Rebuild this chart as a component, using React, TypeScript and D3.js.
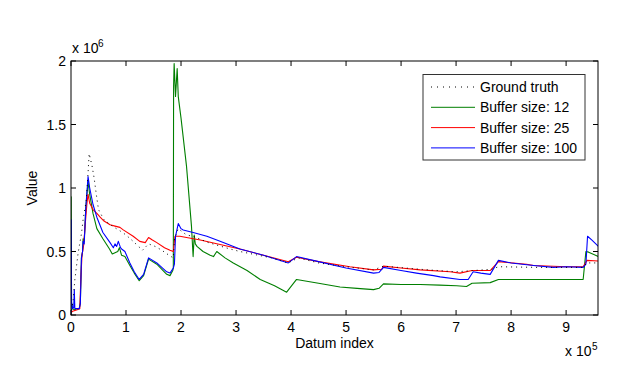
import React from "react";
import * as d3 from "d3";

const xTicks = [0, 1, 2, 3, 4, 5, 6, 7, 8, 9];
const yTicks = [0, 0.5, 1, 1.5, 2];
const yTickLabels = ["0", "0.5", "1", "1.5", "2"];

// x in units of 1e5, y in units of 1e6
const groundTruth: [number, number][] = [
  [0, 0.0], [0.04, 0.12], [0.07, 0.28], [0.13, 0.49], [0.19, 0.64], [0.22, 0.75], [0.28, 0.91],
  [0.31, 1.12], [0.33, 1.27], [0.38, 1.18], [0.42, 1.08], [0.46, 0.95], [0.5, 0.83], [0.6, 0.75],
  [0.75, 0.7], [0.9, 0.66], [1.0, 0.63], [1.13, 0.58], [1.3, 0.51], [1.41, 0.56], [1.53, 0.54],
  [1.65, 0.51], [1.8, 0.465], [1.86, 0.45], [1.88, 0.6], [1.95, 0.68], [2.1, 0.63], [2.22, 0.62],
  [2.5, 0.57], [2.89, 0.52], [3.07, 0.5], [3.64, 0.45], [3.95, 0.41], [4.13, 0.45], [4.5, 0.41],
  [5.0, 0.38], [5.5, 0.355], [5.68, 0.385], [6.35, 0.36], [7.0, 0.34], [7.3, 0.35], [7.65, 0.36],
  [7.77, 0.38], [8.5, 0.375], [9.3, 0.375], [9.38, 0.41], [9.58, 0.41],
];

const buffer12: [number, number][] = [
  [0, 0.0], [0.003, 0.93], [0.01, 0.1], [0.03, 0.05], [0.06, 0.04], [0.1, 0.05], [0.15, 0.05],
  [0.17, 0.1], [0.19, 0.45], [0.21, 0.5], [0.22, 0.6], [0.24, 0.58], [0.27, 0.85], [0.31, 1.05],
  [0.34, 0.95], [0.4, 0.8], [0.47, 0.68], [0.58, 0.6], [0.7, 0.52], [0.75, 0.48], [0.8, 0.49],
  [0.85, 0.5], [0.88, 0.53], [0.92, 0.47], [0.98, 0.46], [1.07, 0.39], [1.15, 0.33], [1.24, 0.27],
  [1.32, 0.31], [1.41, 0.44], [1.56, 0.4], [1.74, 0.32], [1.8, 0.31], [1.85, 0.35], [1.86, 0.37],
  [1.865, 1.8], [1.875, 1.98], [1.9, 1.72], [1.93, 1.94], [1.95, 1.72], [2.0, 1.55], [2.1, 1.17],
  [2.19, 0.7], [2.22, 0.46], [2.24, 0.63], [2.26, 0.56], [2.29, 0.54], [2.4, 0.5], [2.53, 0.47],
  [2.59, 0.46], [2.65, 0.5], [2.8, 0.45], [2.95, 0.41], [3.2, 0.35], [3.44, 0.28], [3.7, 0.23],
  [3.92, 0.18], [4.1, 0.28], [4.5, 0.25], [4.89, 0.22], [5.2, 0.21], [5.5, 0.2], [5.6, 0.21],
  [5.68, 0.245], [6.0, 0.24], [6.35, 0.24], [6.7, 0.235], [7.01, 0.23], [7.19, 0.225], [7.29, 0.25],
  [7.62, 0.255], [7.77, 0.28], [8.5, 0.28], [9.31, 0.28], [9.36, 0.5], [9.41, 0.495], [9.59, 0.46],
];

const buffer25: [number, number][] = [
  [0, 0.02], [0.03, 0.03], [0.1, 0.04], [0.16, 0.05], [0.18, 0.3], [0.2, 0.47], [0.23, 0.55],
  [0.26, 0.72], [0.29, 0.88], [0.31, 0.95], [0.34, 0.88], [0.4, 0.83], [0.47, 0.8], [0.53, 0.77],
  [0.6, 0.74], [0.71, 0.71], [0.8, 0.7], [0.89, 0.69], [0.95, 0.67], [1.13, 0.62], [1.25, 0.58],
  [1.35, 0.57], [1.41, 0.61], [1.48, 0.59], [1.56, 0.57], [1.7, 0.53], [1.8, 0.51], [1.86, 0.5],
  [1.89, 0.62], [1.98, 0.62], [2.1, 0.61], [2.35, 0.59], [2.71, 0.555], [3.07, 0.52], [3.5, 0.47],
  [3.95, 0.42], [4.1, 0.455], [4.5, 0.42], [5.07, 0.38], [5.5, 0.355], [5.65, 0.36], [5.68, 0.385],
  [6.0, 0.37], [6.35, 0.355], [6.89, 0.34], [7.07, 0.33], [7.29, 0.35], [7.62, 0.35], [7.77, 0.42],
  [8.28, 0.4], [8.41, 0.39], [9.0, 0.38], [9.31, 0.38], [9.38, 0.43], [9.59, 0.425],
];

const buffer100: [number, number][] = [
  [0, 0], [0.003, 0.75], [0.01, 0.1], [0.03, 0.05], [0.05, 0.06], [0.06, 0.2], [0.07, 0.05],
  [0.15, 0.05], [0.17, 0.09], [0.19, 0.45], [0.21, 0.5], [0.22, 0.58], [0.24, 0.56], [0.27, 0.85],
  [0.31, 1.09], [0.34, 1.0], [0.4, 0.87], [0.47, 0.77], [0.58, 0.65], [0.71, 0.57], [0.77, 0.53],
  [0.8, 0.56], [0.83, 0.54], [0.86, 0.58], [0.9, 0.53], [0.92, 0.52], [0.98, 0.5], [1.07, 0.41],
  [1.15, 0.34], [1.24, 0.28], [1.32, 0.32], [1.41, 0.45], [1.56, 0.41], [1.74, 0.34], [1.8, 0.33],
  [1.86, 0.37], [1.88, 0.4], [1.9, 0.62], [1.95, 0.72], [2.0, 0.68], [2.04, 0.67], [2.22, 0.65],
  [2.47, 0.62], [2.71, 0.58], [3.07, 0.52], [3.5, 0.47], [3.95, 0.41], [4.1, 0.46], [4.5, 0.42],
  [5.0, 0.37], [5.5, 0.33], [5.6, 0.335], [5.68, 0.375], [6.0, 0.35], [6.28, 0.33], [6.59, 0.31],
  [6.71, 0.3], [7.07, 0.28], [7.22, 0.28], [7.31, 0.34], [7.45, 0.33], [7.62, 0.32], [7.77, 0.43],
  [8.0, 0.41], [8.41, 0.39], [8.77, 0.375], [9.0, 0.38], [9.31, 0.375], [9.36, 0.4], [9.39, 0.62],
  [9.47, 0.59], [9.59, 0.54],
];

const seriesNames = ["Ground truth", "Buffer size: 12", "Buffer size: 25", "Buffer size: 100"];
const seriesColors = ["#000000", "#007f00", "#ff0000", "#0000ff"];

const W = 640, H = 388;
const L = 71, R = 598, T = 61, B = 315;
const FONT = "'Liberation Sans', Arial, Helvetica, sans-serif";
const FS = 14;

export default function App() {
  const x = d3.scaleLinear().domain([0, 9.58]).range([L, R]);
  const y = d3.scaleLinear().domain([0, 2]).range([B, T]);
  const line = d3.line<[number, number]>().x((d) => x(d[0])).y((d) => y(d[1]));
  const all = [groundTruth, buffer12, buffer25, buffer100];
  const tick = 5;
  return (
    <svg width={W} height={H} style={{ position: "absolute", left: 0, top: 0, background: "#fff" }}
      fontFamily={FONT}>
      <rect x={0} y={0} width={W} height={H} fill="#ffffff" />
      <defs>
        <clipPath id="plot"><rect x={L} y={T} width={R - L} height={B - T} /></clipPath>
      </defs>
      <g clipPath="url(#plot)" fill="none">
        {[1, 2, 3].map((i) => (
          <path key={i} d={line(all[i]) || ""} stroke={seriesColors[i]} strokeWidth={1.1} strokeLinejoin="round" />
        ))}
        <path d={line(all[0]) || ""} stroke="#000" strokeWidth={1} strokeDasharray="1,4" />
      </g>
      <rect x={L} y={T} width={R - L} height={B - T} fill="none" stroke="#000" strokeWidth={1} />
      {xTicks.map((t) => (
        <g key={"x" + t}>
          <line x1={x(t)} x2={x(t)} y1={B} y2={B - tick} stroke="#000" />
          <line x1={x(t)} x2={x(t)} y1={T} y2={T + tick} stroke="#000" />
          <text x={x(t)} y={B + 17} fontSize={FS} textAnchor="middle">{t}</text>
        </g>
      ))}
      {yTicks.map((t, i) => (
        <g key={"y" + t}>
          <line x1={L} x2={L + tick} y1={y(t)} y2={y(t)} stroke="#000" />
          <line x1={R} x2={R - tick} y1={y(t)} y2={y(t)} stroke="#000" />
          <text x={L - 5} y={y(t) + 5} fontSize={FS} textAnchor="end">{yTickLabels[i]}</text>
        </g>
      ))}
      <text x={72} y={53} fontSize={FS}>x 10</text>
      <text x={98} y={47} fontSize={10}>6</text>
      <text x={565} y={356} fontSize={FS}>x 10</text>
      <text x={592} y={350} fontSize={10}>5</text>
      <text x={(L + R) / 2} y={348} fontSize={FS} textAnchor="middle">Datum index</text>
      <text transform={`translate(37,${(T + B) / 2}) rotate(-90)`} fontSize={FS} textAnchor="middle">Value</text>
      <rect x={423} y={74.5} width={162} height={85.5} fill="#fff" stroke="#333" strokeWidth={1} />
      {seriesNames.map((n, i) => {
        const yy = 87 + i * 20.3;
        return (
          <g key={n}>
            <line x1={431} x2={475} y1={yy} y2={yy} stroke={seriesColors[i]} strokeWidth={1}
              strokeDasharray={i === 0 ? "1,5" : undefined} />
            <text x={480} y={yy + 5} fontSize={FS}>{n}</text>
          </g>
        );
      })}
    </svg>
  );
}
